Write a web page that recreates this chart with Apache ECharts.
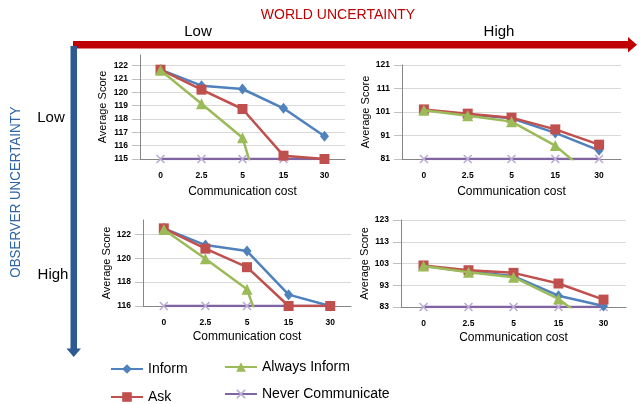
<!DOCTYPE html>
<html>
<head>
<meta charset="utf-8">
<script src="https://cdn.jsdelivr.net/npm/echarts@6/dist/echarts.min.js"></script>
<style>
html,body{margin:0;padding:0;background:#fff;}
#chart{width:640px;height:404px;}
</style>
</head>
<body>
<div id="chart"></div>
<script>
// ---- data ----
var categories = ['0', '2.5', '5', '15', '30'];
var seriesNames = ['Inform', 'Ask', 'Always Inform', 'Never Communicate'];

// top-left: world Low, observer Low
var informLL = [121.7, 120.5, 120.25, 118.8, 116.7];
var askLL    = [121.7, 120.2, 118.75, 115.25, 115.0];
var alwaysLL = [121.65, 119.15, 116.6, 106.4, 98.0];
var neverLL  = [115, 115, 115, 115, 115];

// top-right: world High, observer Low
var informHL = [101.85, 99.9, 98.3, 92.1, 84.7];
var askHL    = [102.1, 100.3, 98.6, 93.6, 87.1];
var alwaysHL = [101.7, 99.4, 96.9, 86.7, 70.9];
var neverHL  = [81, 81, 81, 81, 81];

// bottom-left: world Low, observer High
var informLH = [122.5, 121.1, 120.6, 116.95, 116.0];
var askLH    = [122.5, 120.8, 119.25, 116.0, 116.0];
var alwaysLH = [122.4, 119.95, 117.4, 107.6, 100.0];
var neverLH  = [116, 116, 116, 116, 116];

// bottom-right: world High, observer High
var informHH = [101.9, 99.3, 97.2, 88.2, 83.5];
var askHH    = [102.1, 99.9, 98.7, 93.8, 86.4];
var alwaysHH = [101.8, 99.0, 96.7, 86.7, 71.2];
var neverHH  = [83, 83, 83, 83, 83];

// axis ranges
var yMin = [115, 81, 116, 83];
var yMax = [122.8, 121, 123.2, 123];
var yInterval = [1, 10, 2, 10];

var panels = [
  [informLL, askLL, alwaysLL, neverLL],
  [informHL, askHL, alwaysHL, neverHL],
  [informLH, askLH, alwaysLH, neverLH],
  [informHH, askHH, alwaysHH, neverHH]
];

// ---- styling ----
var FONT = '"Liberation Sans", Arial, sans-serif';
var colors = ['#4F81BD', '#C0504D', '#9BBB59', '#8064A2'];
var xPath = 'path://M0,1.2 L1.2,0 L5,3.8 L8.8,0 L10,1.2 L6.2,5 L10,8.8 L8.8,10 L5,6.2 L1.2,10 L0,8.8 L3.8,5 Z';
var symbols = ['diamond', 'rect', 'triangle', xPath];
var symbolSizes = [[9, 11], 10, 11, 9];
var symbolColors = ['#4F81BD', '#C0504D', '#9BBB59', '#B9A9D3'];

var grids = [
  {left: 140, top: 55, width: 205, height: 104},
  {left: 402, top: 65, width: 219, height: 94},
  {left: 143, top: 220, width: 208, height: 86},
  {left: 401, top: 220, width: 225, height: 87}
];
var yNameGap = [32, 29, 30, 28];
var xNameGap = [27, 27, 25, 25];

var xAxes = [], yAxes = [], series = [];
for (var g = 0; g < 4; g++) {
  var hideMax = (g === 0 || g === 2);
  xAxes.push({
    type: 'category', gridIndex: g, data: categories, boundaryGap: true,
    axisLine: {lineStyle: {color: '#868686', width: 1}},
    axisTick: {show: false},
    axisLabel: {fontSize: 8.5, fontWeight: 'bold', color: '#000', margin: 12, fontFamily: FONT},
    name: 'Communication cost', nameLocation: 'middle', nameGap: xNameGap[g],
    nameTextStyle: {fontSize: 12, color: '#000', fontFamily: FONT}
  });
  yAxes.push({
    type: 'value', gridIndex: g, min: yMin[g], max: yMax[g], interval: yInterval[g],
    axisLine: {show: true, lineStyle: {color: '#868686', width: 1}},
    axisTick: {show: true, length: 8, lineStyle: {color: '#BFBFBF'}},
    splitLine: {show: true, showMaxLine: !hideMax, lineStyle: {color: '#D9D9D9', width: 1}},
    axisLabel: {fontSize: 8.5, fontWeight: 'bold', color: '#000', margin: 12, fontFamily: FONT,
                showMaxLabel: !hideMax},
    name: 'Average Score', nameLocation: 'middle', nameGap: yNameGap[g],
    nameTextStyle: {fontSize: 11, color: '#000', fontFamily: FONT}
  });
  // draw Never Communicate first (beneath), then others
  var order = [3, 0, 1, 2];
  for (var k = 0; k < order.length; k++) {
    var s = order[k];
    series.push({
      name: seriesNames[s], type: 'line', xAxisIndex: g, yAxisIndex: g,
      data: panels[g][s], clip: true,
      symbol: symbols[s], symbolSize: symbolSizes[s], showSymbol: true,
      lineStyle: {color: colors[s], width: 2.5},
      itemStyle: {color: symbolColors[s]},
      z: 2 + k, animation: false
    });
  }
}

var legendText = {fontSize: 14, color: '#000', fontFamily: FONT};
function legendItem(name, left, top) {
  return {data: [name], left: left, top: top, itemWidth: 32, itemHeight: 12,
          textStyle: legendText, padding: 0, itemGap: 0};
}

var option = {
  animation: false,
  backgroundColor: '#fff',
  color: colors,
  grid: grids,
  xAxis: xAxes,
  yAxis: yAxes,
  series: series,
  legend: [
    legendItem('Inform', 110, 362),
    legendItem('Ask', 110, 390),
    legendItem('Always Inform', 224, 360),
    legendItem('Never Communicate', 224, 387)
  ],
  graphic: [
    // red horizontal arrow
    {type: 'rect', shape: {x: 73, y: 41, width: 556, height: 7.5}, style: {fill: '#C00000'}, z: 10},
    {type: 'polygon', shape: {points: [[628, 37], [637, 44.7], [628, 52.5]]}, style: {fill: '#C00000'}, z: 10},
    // blue vertical arrow
    {type: 'rect', shape: {x: 70.5, y: 46, width: 6.5, height: 303}, style: {fill: '#2C5A91'}, z: 10},
    {type: 'polygon', shape: {points: [[66.5, 348.5], [81, 348.5], [73.7, 357]]}, style: {fill: '#2C5A91'}, z: 10},
    // header texts
    {type: 'text', x: 338, y: 15, z: 10,
     style: {text: 'WORLD UNCERTAINTY', font: '14px ' + FONT, fill: '#C00000',
             align: 'center', verticalAlign: 'middle', textAlign: 'center', textVerticalAlign: 'middle'}},
    {type: 'text', x: 198, y: 32, z: 10,
     style: {text: 'Low', font: '15px ' + FONT, fill: '#000',
             align: 'center', verticalAlign: 'middle', textAlign: 'center', textVerticalAlign: 'middle'}},
    {type: 'text', x: 499, y: 32, z: 10,
     style: {text: 'High', font: '15px ' + FONT, fill: '#000',
             align: 'center', verticalAlign: 'middle', textAlign: 'center', textVerticalAlign: 'middle'}},
    {type: 'text', x: 16, y: 192, rotation: Math.PI / 2, scaleX: 0.89, z: 10,
     style: {text: 'OBSERVER UNCERTAINTY', font: '15px ' + FONT, fill: '#2F64A6',
             align: 'center', verticalAlign: 'middle', textAlign: 'center', textVerticalAlign: 'middle'}},
    {type: 'text', x: 51, y: 118, z: 10,
     style: {text: 'Low', font: '15px ' + FONT, fill: '#000',
             align: 'center', verticalAlign: 'middle', textAlign: 'center', textVerticalAlign: 'middle'}},
    {type: 'text', x: 53, y: 275, z: 10,
     style: {text: 'High', font: '15px ' + FONT, fill: '#000',
             align: 'center', verticalAlign: 'middle', textAlign: 'center', textVerticalAlign: 'middle'}}
  ]
};

var chart = echarts.init(document.getElementById('chart'), null, {renderer: 'canvas'});
chart.setOption(option);
</script>
</body>
</html>
